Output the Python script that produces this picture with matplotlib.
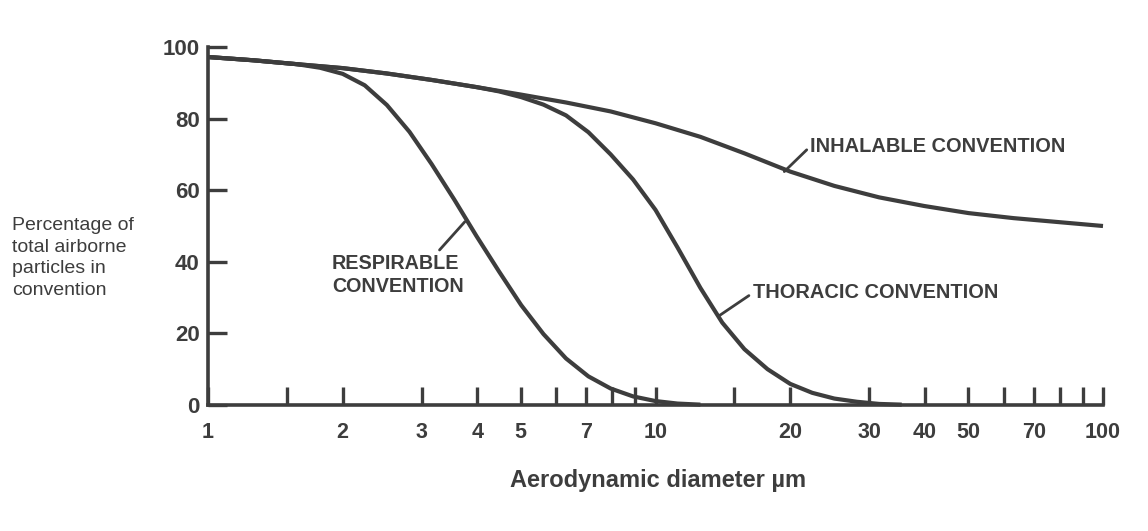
import matplotlib
matplotlib.use("Agg")
import matplotlib.pyplot as plt
from matplotlib.ticker import FixedLocator, FixedFormatter, NullLocator

# ---- data ----
inhal_d = [1, 1.26, 1.58, 2, 2.51, 3.16, 3.98, 5.01, 6.31, 7.94, 10, 12.6, 15.8, 20, 25.1, 31.6, 39.8, 50.1, 63.1, 79.4, 100]
inhal_y = [97.2, 96.3, 95.2, 94.1, 92.6, 90.8, 88.8, 86.7, 84.5, 82.0, 78.7, 74.9, 70.3, 65.2, 61.2, 58.0, 55.6, 53.6, 52.2, 51.1, 50.0]

resp_d = [1, 1.26, 1.58, 1.78, 2.0, 2.24, 2.51, 2.82, 3.16, 3.55, 3.98, 4.47, 5.01, 5.62, 6.31, 7.08, 7.94, 8.91, 10.0, 11.2, 12.6]
resp_y = [97.2, 96.3, 95.2, 94.2, 92.5, 89.3, 83.8, 76.3, 67.3, 57.4, 47.2, 37.3, 27.9, 19.8, 13.0, 8.0, 4.6, 2.4, 1.1, 0.4, 0.1]

thor_d = [1, 1.26, 1.58, 2, 2.51, 3.16, 3.98, 4.47, 5.01, 5.62, 6.31, 7.08, 7.94, 8.91, 10.0, 11.2, 12.6, 14.1, 15.8, 17.8, 20.0, 22.4, 25.1, 28.2, 31.6, 35.5]
thor_y = [97.2, 96.3, 95.2, 94.1, 92.6, 90.8, 88.8, 87.6, 86.0, 83.9, 80.9, 76.2, 70.0, 63.0, 54.5, 44.0, 32.7, 23.0, 15.6, 10.0, 5.9, 3.4, 1.8, 0.9, 0.3, 0.1]

x_tick_pos = [1, 1.5, 2, 3, 4, 5, 6, 7, 8, 9, 10, 15, 20, 30, 40, 50, 60, 70, 80, 90, 100]
x_tick_lab = ["1", "", "2", "3", "4", "5", "", "7", "", "", "10", "", "20", "30", "40", "50", "", "70", "", "", "100"]
y_tick_pos = [0, 20, 40, 60, 80, 100]
y_tick_lab = ["0", "20", "40", "60", "80", "100"]

ink = "#3d3d3d"
plt.rcParams["font.family"] = ["Liberation Sans", "DejaVu Sans"]

fig = plt.figure(figsize=(11.48, 5.31), dpi=100)
ax = fig.add_axes([208 / 1148, 1 - 405 / 531, (1103 - 208) / 1148, (405 - 47) / 531])

for d, y in ((inhal_d, inhal_y), (resp_d, resp_y), (thor_d, thor_y)):
    ax.plot(d, y, color=ink, lw=3.0, solid_capstyle="butt", solid_joinstyle="round", clip_on=False)

ax.set_xscale("log")
ax.set_xlim(1, 100)
ax.set_ylim(0, 100)

ax.xaxis.set_major_locator(FixedLocator(x_tick_pos))
ax.xaxis.set_major_formatter(FixedFormatter(x_tick_lab))
ax.xaxis.set_minor_locator(NullLocator())
ax.yaxis.set_major_locator(FixedLocator(y_tick_pos))
ax.yaxis.set_major_formatter(FixedFormatter(y_tick_lab))

for s in ("top", "right"):
    ax.spines[s].set_visible(False)
for s in ("left", "bottom"):
    ax.spines[s].set_color(ink)
    ax.spines[s].set_linewidth(2.6)

ax.tick_params(axis="x", direction="in", length=13, width=2.4, color=ink, pad=12,
               labelsize=15.5, labelcolor=ink)
ax.tick_params(axis="y", direction="in", length=14, width=2.4, color=ink, pad=6,
               labelsize=16, labelcolor=ink)
for lab in ax.get_xticklabels() + ax.get_yticklabels():
    lab.set_fontweight("bold")

fig.text(658 / 1148, 1 - 480 / 531, "Aerodynamic diameter µm", fontsize=17, fontweight="bold",
         color=ink, ha="center", va="center")

fig.text(12 / 1148, 1 - 258 / 531, "Percentage of\ntotal airborne\nparticles in\nconvention",
         fontsize=14, color=ink, ha="left", va="center", linespacing=1.38)

# annotations with leader lines
lead = dict(arrowstyle="-", color=ink, lw=2.0, shrinkA=1, shrinkB=0)
ax.annotate("INHALABLE CONVENTION", xy=(19.4, 65.2), xytext=(22.2, 72.3),
            fontsize=14.4, fontweight="bold", color=ink, ha="left", va="center",
            arrowprops=dict(lead, relpos=(0.0, 0.5)))
ax.annotate("THORACIC CONVENTION", xy=(13.9, 25.0), xytext=(16.5, 31.3),
            fontsize=14.4, fontweight="bold", color=ink, ha="left", va="center",
            arrowprops=dict(lead, relpos=(0.0, 0.5)))
ax.annotate("RESPIRABLE\nCONVENTION", xy=(3.75, 51.2), xytext=(1.893, 36.3),
            fontsize=14.2, fontweight="bold", color=ink, ha="left", va="center", linespacing=1.3,
            arrowprops=dict(lead, relpos=(0.79, 1.0)))

fig.savefig("out.png", dpi=100, facecolor="white")
